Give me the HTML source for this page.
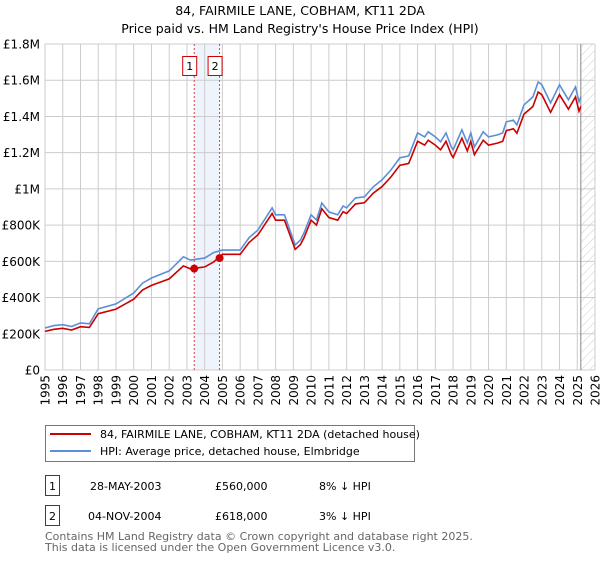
<!DOCTYPE html>
<html><head><meta charset="utf-8"><style>
body{margin:0;background:#fff;font-family:"DejaVu Sans","Liberation Sans",sans-serif;}
svg text{font-family:"DejaVu Sans","Liberation Sans",sans-serif;}
</style></head><body>
<svg id="chart" width="600" height="560" xmlns="http://www.w3.org/2000/svg">
<defs><pattern id="hatch" width="6" height="6" patternUnits="userSpaceOnUse" patternTransform="rotate(45)"><line x1="0" y1="0" x2="0" y2="6" stroke="#ccc" stroke-width="1"/></pattern></defs>
<text x="300" y="15" text-anchor="middle" font-size="12.5">84, FAIRMILE LANE, COBHAM, KT11 2DA</text>
<text x="300" y="33" text-anchor="middle" font-size="12.5">Price paid vs. HM Land Registry's House Price Index (HPI)</text>
<g id="plot"></g>
<rect x="45.5" y="425.5" width="369" height="36" fill="#fff" stroke="#777"/>
<line x1="50" y1="434" x2="91" y2="434" stroke="#cc0000" stroke-width="2"/>
<text x="100" y="438" font-size="11">84, FAIRMILE LANE, COBHAM, KT11 2DA (detached house)</text>
<line x1="50" y1="451" x2="91" y2="451" stroke="#5b8fd6" stroke-width="2"/>
<text x="100" y="455" font-size="11">HPI: Average price, detached house, Elmbridge</text>
<g>
<rect x="45.5" y="475.5" width="14" height="20" fill="none" stroke="#cc0000"/>
<text x="52.5" y="490" text-anchor="middle" font-size="11">1</text>
<text x="90" y="490" font-size="11">28-MAY-2003</text>
<text x="215" y="490" font-size="11">£560,000</text>
<text x="319" y="490" font-size="11">8% ↓ HPI</text>
</g>
<g>
<rect x="45.5" y="505.5" width="14" height="20" fill="none" stroke="#cc0000"/>
<text x="52.5" y="520" text-anchor="middle" font-size="11">2</text>
<text x="88" y="520" font-size="11">04-NOV-2004</text>
<text x="215" y="520" font-size="11">£618,000</text>
<text x="319" y="520" font-size="11">3% ↓ HPI</text>
</g>
<text x="45" y="540" font-size="11" fill="#666">Contains HM Land Registry data © Crown copyright and database right 2025.</text>
<text x="45" y="551" font-size="11" fill="#666">This data is licensed under the Open Government Licence v3.0.</text>
</svg>
<script>
const dates=[1995,1995.5,1996,1996.5,1997,1997.5,1998,1999,2000,2000.5,2001,2002,2002.8,2003.2,2004,2004.5,2005,2006,2006.5,2007,2007.8,2008,2008.5,2009.1,2009.4,2009.6,2010,2010.3,2010.6,2011,2011.5,2011.8,2012,2012.5,2013,2013.5,2014,2014.5,2015,2015.5,2016,2016.4,2016.6,2017,2017.3,2017.6,2017.9,2018,2018.5,2018.8,2019,2019.2,2019.7,2020,2020.5,2020.8,2021,2021.4,2021.6,2022,2022.5,2022.8,2023,2023.5,2024,2024.5,2024.9,2025.1,2025.2];
const hpiValues=[232,245,250,240,260,255,338,365,425,480,508,547,625,607,618,648,662,662,730,773,895,857,857,690,718,757,857,829,922,873,857,906,895,950,956,1011,1050,1105,1171,1182,1309,1287,1315,1287,1260,1309,1232,1215,1326,1254,1309,1232,1315,1287,1298,1309,1370,1380,1354,1464,1508,1591,1575,1475,1575,1492,1563,1481,1508];
const propertyValues=[213,225,230,221,239,235,311,336,391,442,467,503,575,558,569,596,639,639,704,746,864,827,827,666,693,730,827,800,890,842,827,874,864,917,923,976,1013,1066,1130,1141,1263,1242,1269,1242,1216,1263,1189,1173,1280,1210,1263,1189,1269,1242,1253,1263,1322,1332,1307,1413,1455,1535,1520,1423,1520,1440,1508,1429,1455];
const saleDates=[2003.41,2004.84];
const salePrices=[560,618];
const saleLabels=["1","2"];
const yTicks=[0,200,400,600,800,1000,1200,1400,1600,1800];
const yTickLabels=["£0","£200K","£400K","£600K","£800K","£1M","£1.2M","£1.4M","£1.6M","£1.8M"];
const xYears=[1995,1996,1997,1998,1999,2000,2001,2002,2003,2004,2005,2006,2007,2008,2009,2010,2011,2012,2013,2014,2015,2016,2017,2018,2019,2020,2021,2022,2023,2024,2025,2026];
const dataEnd=2025.2;

const NS="http://www.w3.org/2000/svg";
const L=45,R=595,T=44,B=370;
const x=d=>L+(d-1995)/(2026-1995)*(R-L);
const y=v=>B-v/1800*(B-T);
const g=document.getElementById('plot');
function mk(tag,attrs){const e=document.createElementNS(NS,tag);for(const k in attrs)e.setAttribute(k,attrs[k]);g.appendChild(e);return e;}

let e=mk('rect',{x:x(saleDates[0]),y:T,width:x(saleDates[1])-x(saleDates[0]),height:B-T,fill:'#eef3fc'});


e=mk('rect',{x:x(dataEnd),y:T,width:R-x(dataEnd),height:B-T,fill:'url(#hatch)'});


yTicks.forEach((v,i)=>{
  let l=mk('line',{x1:L,x2:R,y1:y(v),y2:y(v),stroke:'#ccc','stroke-width':1});
  
  
  let t=mk('text',{x:L-5,y:y(v)+4.5,'text-anchor':'end','font-size':12});
  t.textContent=yTickLabels[i];
  
  
});
xYears.forEach(yr=>{
  let l=mk('line',{x1:x(yr),x2:x(yr),y1:T,y2:B,stroke:'#ccc','stroke-width':1});
  
  
  let t=mk('text',{x:0,y:0,'text-anchor':'end','font-size':12,transform:`translate(${x(yr)+4.5},${B+5}) rotate(-90)`});
  t.textContent=yr;
  
  
});
e=mk('line',{x1:x(dataEnd),x2:x(dataEnd),y1:T,y2:B,stroke:'#888','stroke-width':1});


saleDates.forEach((d,i)=>{
  let l=mk('line',{x1:x(d),x2:x(d),y1:T,y2:B,stroke:'#e04040','stroke-width':1,'stroke-dasharray':'2,2'});
  
  
  let r=mk('rect',{x:x(d)-11.5,y:56.5,width:14,height:19,fill:'#fff',stroke:'#cc0000'});
  
  
  let t=mk('text',{x:x(d)-4.5,y:70,'text-anchor':'middle','font-size':11});
  t.textContent=saleLabels[i];
  
  
});
const pts=a=>a.map((v,i)=>x(dates[i]).toFixed(1)+','+y(v).toFixed(1)).join(' ');
e=mk('polyline',{points:pts(hpiValues),fill:'none',stroke:'#5b8fd6','stroke-width':1.6});


e=mk('polyline',{points:pts(propertyValues),fill:'none',stroke:'#cc0000','stroke-width':1.6});


saleDates.forEach((d,i)=>{
  let c=mk('circle',{cx:x(d),cy:y(salePrices[i]),r:4,fill:'#cc0000'});
  
  
});
</script>
</body></html>
